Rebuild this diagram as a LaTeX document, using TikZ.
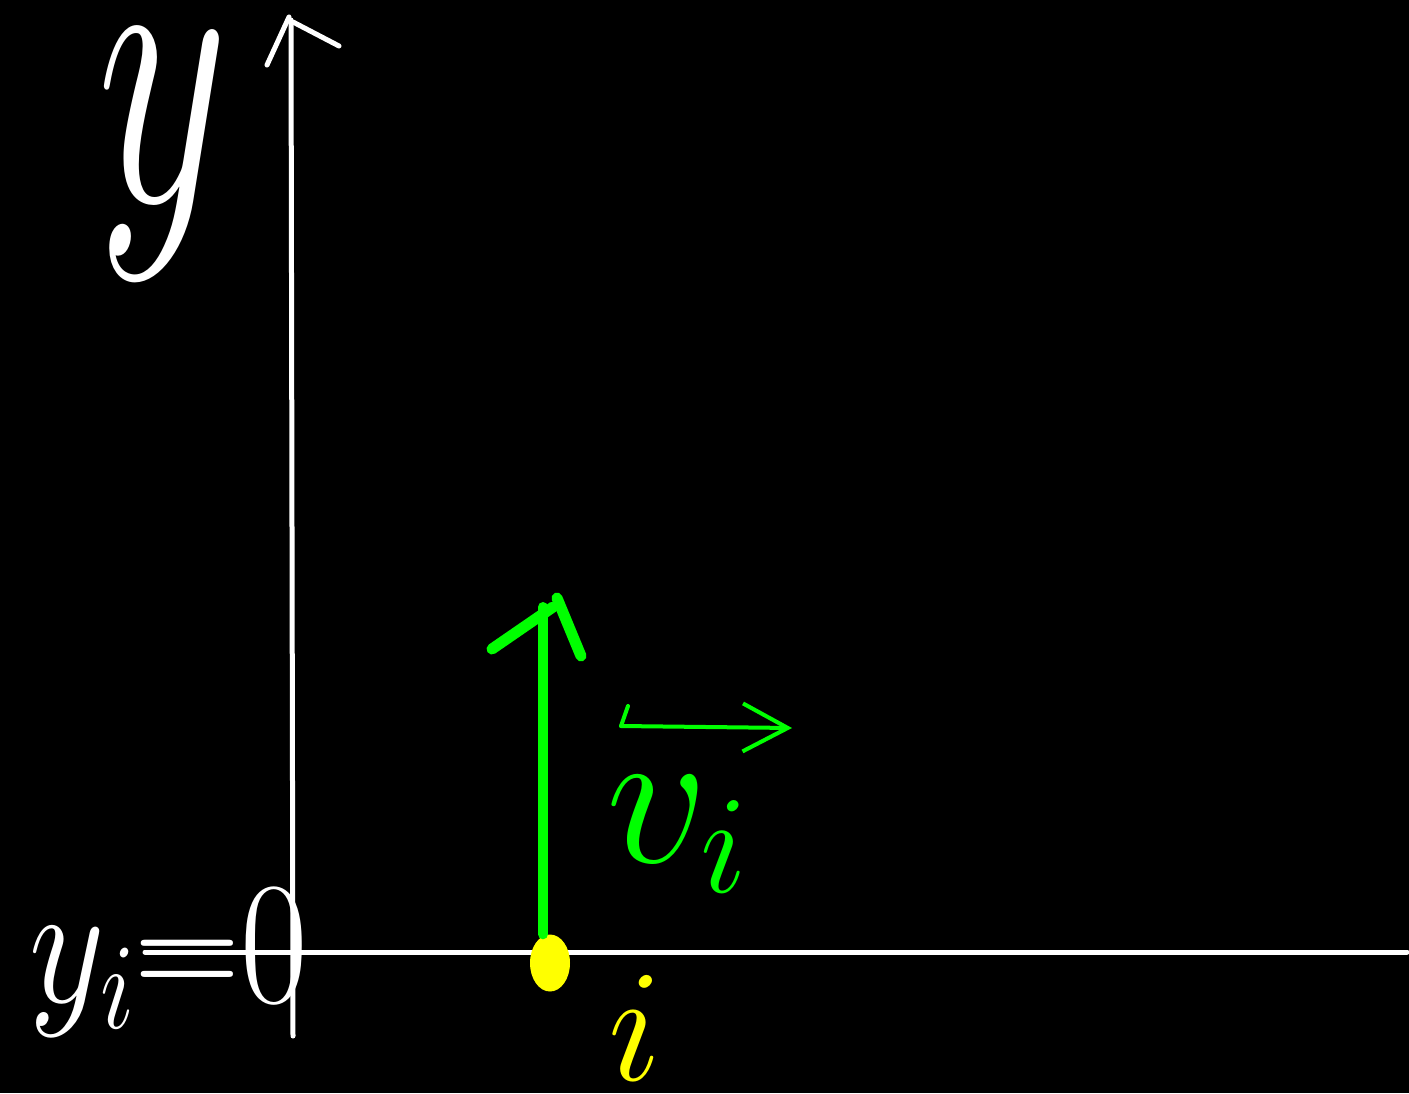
\RequirePackage{fix-cm}
\documentclass[tikz,border=0pt]{standalone}
\usetikzlibrary{shapes.geometric,arrows.meta}
\definecolor{pengreen}{RGB}{0,255,0}
\definecolor{penyellow}{RGB}{255,255,0}
\begin{document}
\begin{tikzpicture}[x=1pt,y=-1pt,
  axis/.style={draw=white, line width=5pt, line cap=round},
  vecline/.style={draw=pengreen, line width=10pt, line cap=round},
  vectip/.style={draw=pengreen, line width=11pt, line cap=round},
  penline/.style={draw=pengreen, line width=4pt, line cap=round, line join=round},
  lbl/.style={inner sep=0pt, outer sep=0pt}]
\fill[black] (0,0) rectangle (1409,1093);
\useasboundingbox (0,0) rectangle (1409,1093);
% axes
\coordinate (ybot) at (293,1036);
\coordinate (ytop) at (291,20);
\coordinate (xleft) at (145,952);
\coordinate (xright) at (1407,952);
\draw[axis] (ybot) -- (ytop);
\draw[axis] (ytop) ++(-2,-3) -- ++(-22,48);
\draw[axis] (ytop) ++(2,2) -- ++(46,24);
\draw[axis] (xleft) -- (xright);
% labels
\node[lbl, text=white, font=\fontsize{300}{300}\selectfont, xscale=0.85, yscale=1.33] (ylab) at (163,154) {$y$};
\node[lbl, text=white, font=\fontsize{175}{175}\selectfont, xscale=0.84, anchor=base west] (yzero) at (30,1002) {$y_i{=}0$};
% vector
\node[ellipse, fill=penyellow, minimum width=40pt, minimum height=57pt, inner sep=0pt] (pt) at (550,963) {};
\coordinate (vtip) at (543,607);
\draw[vecline] (pt.north -| vtip) -- (vtip);
\draw[vectip] (vtip) ++(-51,42) -- ++(61,-42);
\draw[vectip] (vtip) ++(14,-9) -- ++(24,58);
\node[lbl, text=pengreen, font=\fontsize{200}{200}\selectfont, anchor=base west] (vlab) at (606,862) {$v_i$};
\coordinate (varL) at (621,726);
\coordinate (varR) at (792,728);
\draw[penline, -{Straight Barb[length=45pt,width=48pt,line width=4pt]}] (varL) -- (varR);
\draw[penline] (varL) -- ++(7,-20);
\node[lbl, text=penyellow, font=\fontsize{160}{160}\selectfont] (ilab) at (635,1028) {$i$};
\end{tikzpicture}
\end{document}
